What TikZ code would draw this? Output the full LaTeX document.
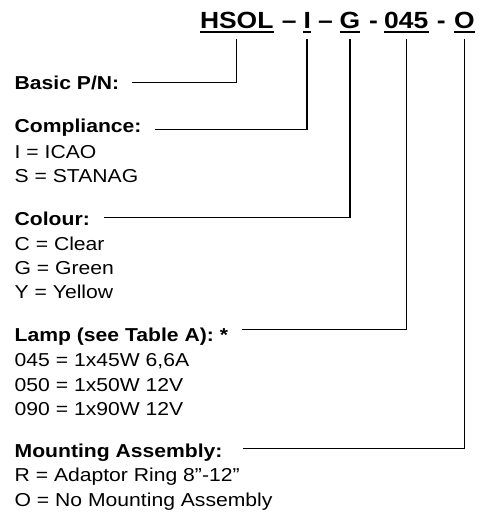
\documentclass[tikz,border=0pt]{standalone}
\usepackage{fontspec}
\setmainfont[FakeStretch=1.13]{Liberation Sans}

\begin{document}
\begin{tikzpicture}[x=1pt,y=-1pt]
        \tikzset{part/.style = {anchor=base west,inner sep=0pt,font=\fontsize{23.4}{28}\selectfont\bfseries}};
        \tikzset{head/.style = {anchor=base west,inner sep=0pt,font=\fontsize{18.7}{24.3}\selectfont\bfseries}};
        \tikzset{opt/.style = {anchor=base west,inner sep=0pt,font=\fontsize{18.7}{24.3}\selectfont}};
        \tikzset{leader/.style = {line width=1.4pt}};
        \tikzset{uline/.style = {line width=2pt}};
        \useasboundingbox (0,0) rectangle (480,513);
        % part number
        \node[part] (hsol) at (199.8,28.3) {HSOL};
        \node[part] (d1) at (281.7,28.3) {–};
        \node[part] (pi) at (303.3,28.3) {I};
        \node[part] (d2) at (318,28.3) {–};
        \node[part] (pg) at (339.5,28.3) {G};
        \node[part] (d3) at (369,28.3) {-};
        \node[part] (pl) at (384,28.3) {045};
        \node[part] (d4) at (436.7,28.3) {-};
        \node[part] (po) at (454,28.3) {O};
        \foreach \p in {hsol,pi,pg,pl,po}
            \draw[uline] ([yshift=-4pt]\p.base west) -- ([yshift=-4pt]\p.base east);
        % fields
        \node[head] (basic) at (14.5,90) {Basic P/N:};
        \node[head] (compliance) at (14.5,132.3) {Compliance:};
        \node[opt] (c1) at (14.5,158.3) {I = ICAO};
        \node[opt] (c2) at (14.5,182.6) {S = STANAG};
        \node[head] (colour) at (14.5,225) {Colour:};
        \node[opt] (k1) at (14.5,250) {C = Clear};
        \node[opt] (k2) at (14.5,274.3) {G = Green};
        \node[opt] (k3) at (14.5,298.5) {Y = Yellow};
        \node[head] (lamp) at (14.5,341.7) {Lamp (see Table A): *};
        \node[opt] (l1) at (14.5,366.7) {045 = 1x45W 6,6A};
        \node[opt] (l2) at (14.5,391) {050 = 1x50W 12V};
        \node[opt] (l3) at (14.5,415.2) {090 = 1x90W 12V};
        \node[head] (mounting) at (14.5,457) {Mounting Assembly:};
        \node[opt] (m1) at (14.5,481.7) {R = Adaptor Ring 8”-12”};
        \node[opt] (m2) at (14.5,506) {O = No Mounting Assembly};
        % leaders
        \draw[leader] ([yshift=-10.7pt]hsol.base) |- ([xshift=13pt,yshift=7.3pt]basic.base east);
        \draw[leader] ([yshift=-10.7pt]pi.base) |- ([xshift=13pt,yshift=2.7pt]compliance.base east);
        \draw[leader] ([yshift=-10.7pt]pg.base) |- ([xshift=14pt,yshift=7.3pt]colour.base east);
        \draw[leader] ([yshift=-10.7pt]pl.base) |- ([xshift=13.3pt,yshift=12pt]lamp.base east);
        \draw[leader] ([yshift=-10.7pt]po.base) |- ([xshift=20.6pt,yshift=8.8pt]mounting.base east);
\end{tikzpicture}
\end{document}
